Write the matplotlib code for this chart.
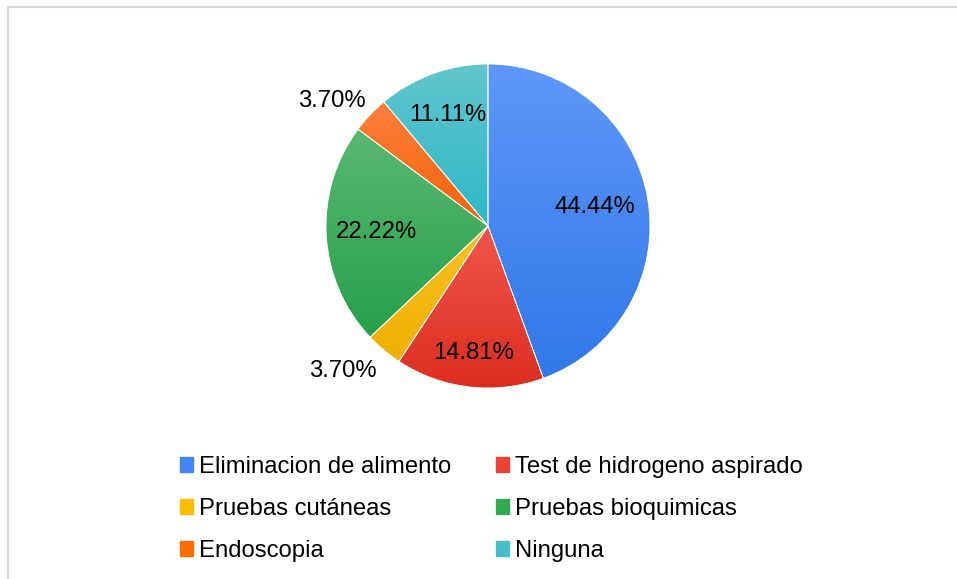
import numpy as np
import matplotlib.pyplot as plt
from matplotlib.patches import Rectangle
from matplotlib.colors import LinearSegmentedColormap

plt.rcParams['font.family'] = ['Liberation Sans', 'DejaVu Sans']

# Datos
categorias = ['Eliminacion de alimento', 'Test de hidrogeno aspirado', 'Pruebas cutáneas',
              'Pruebas bioquimicas', 'Endoscopia', 'Ninguna']
porcentajes = [44.44, 14.81, 3.70, 22.22, 3.70, 11.11]
total = sum(porcentajes)

# Colores (arriba, abajo) para el degradado
colores_top = ['#5E97F8', '#F0564B', '#FBC124', '#5AB872', '#FF7F3F', '#62C5CC']
colores_bot = ['#3178E8', '#DB2E20', '#EDB000', '#26A04A', '#F26406', '#2DB8C8']
colores_leyenda = ['#4285F4', '#EA4335', '#FBBC04', '#34A853', '#FF6D01', '#46BDC6']

# Distancia (en radios) y giro (grados) de cada etiqueta
dist_etiquetas = [0.67, 0.79, 1.27, 0.69, 1.235, 0.73]
giro_etiquetas = [0, 0, -5, 0, 4.6, 0]

W, H = 957, 579
fig = plt.figure(figsize=(W / 100, H / 100), dpi=100)
ax = fig.add_axes([0, 0, 1, 1])

cx, cy, R = 488, H - 226, 162
wedges, texts, autotexts = ax.pie(porcentajes, startangle=90, counterclock=False,
                                  center=(cx, cy), radius=R,
                                  autopct=lambda p: '%.2f%%' % (p * total / 100),
                                  wedgeprops=dict(edgecolor='white', linewidth=0.6),
                                  textprops=dict(fontsize=17.2, color='black'))

# Degradado vertical dentro de cada porcion
for w, ct, cb in zip(wedges, colores_top, colores_bot):
    cmap = LinearSegmentedColormap.from_list('g', [cb, ct])
    bb = w.get_path().get_extents()
    grad = np.linspace(0, 1, 256).reshape(-1, 1)
    im = ax.imshow(grad, cmap=cmap, origin='lower', aspect='auto',
                   extent=[bb.x0, bb.x1, bb.y0, bb.y1], zorder=w.get_zorder())
    im.set_clip_path(w)
    w.set_facecolor('none')
    w.set_zorder(3)

# Reubicar etiquetas de porcentaje
for w, t, d, g in zip(wedges, autotexts, dist_etiquetas, giro_etiquetas):
    ang = np.deg2rad((w.theta1 + w.theta2) / 2 + g)
    t.set_position((cx + d * R * np.cos(ang), cy + d * R * np.sin(ang)))
    t.set_zorder(5)

ax.set_xlim(0, W)
ax.set_ylim(0, H)
ax.set_aspect('equal')
ax.axis('off')

# Marco del grafico
fig.patches.append(Rectangle((8 / W, -0.1), 1.2, (H - 7) / H + 0.1, transform=fig.transFigure,
                             fill=False, edgecolor='#D9D9D9', linewidth=1.5))

# Leyenda (orden por filas)
handles = [Rectangle((0, 0), 1, 1, color=c) for c in colores_leyenda]
orden = [0, 2, 4, 1, 3, 5]
fig.legend([handles[i] for i in orden], [categorias[i] for i in orden],
           loc='upper left', bbox_to_anchor=(180 / W, 1 - 456 / H), ncol=2,
           frameon=False, fontsize=17.2, handlelength=0.55, handleheight=0.55,
           handletextpad=0.25, columnspacing=1.85, labelspacing=0.84,
           borderpad=0, borderaxespad=0)

fig.savefig('out.png', dpi=100)
